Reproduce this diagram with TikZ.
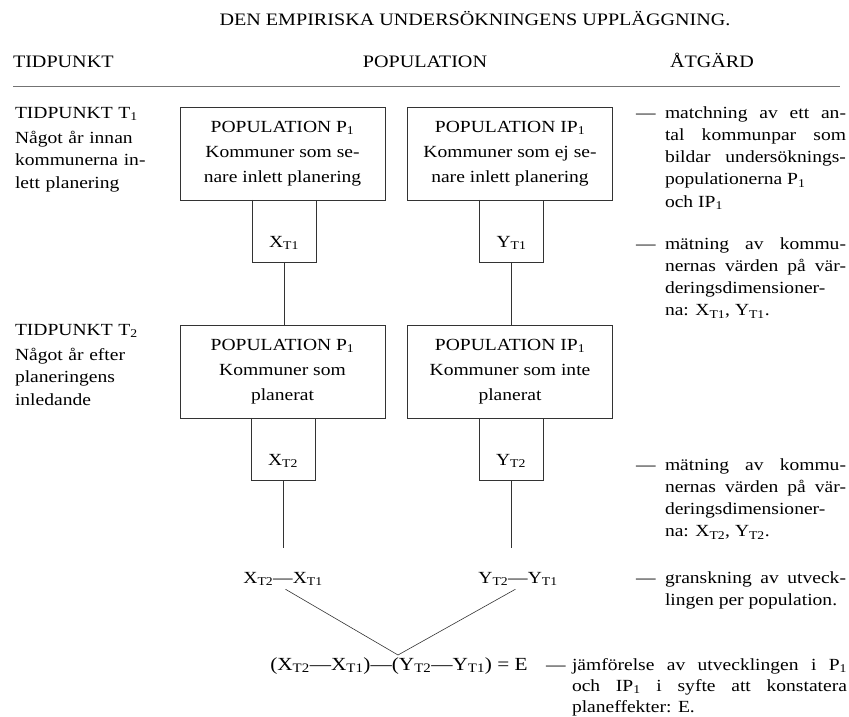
\documentclass[tikz,border=0pt]{standalone}
\usepackage{fontspec}
\setmainfont{Liberation Serif}[FakeStretch=1.15]
\begin{document}
\begin{tikzpicture}[x=1pt,y=-1pt,
  txt/.style={inner sep=0pt, outer sep=0pt},
  head/.style={txt, font=\fontsize{17.5}{20}\selectfont},
  bigbox/.style={draw=black!80, line width=0.6pt, minimum width=205pt, minimum height=93pt, align=center, inner sep=0pt, font=\fontsize{17}{25}\selectfont},
  smallbox/.style={minimum width=64pt, minimum height=62pt, inner sep=0pt, text height=32pt, text depth=0pt, font=\fontsize{17}{20}\selectfont},
  side/.style={draw=black!80, line width=0.6pt},
  link/.style={draw=black!80, line width=0.6pt},
  rule/.style={draw=black!55, line width=0.7pt},
  note/.style={txt, anchor=base west, text width=181pt, align=justify, font=\fontsize{17}{22.3}\selectfont},
  widenote/.style={note, text width=275pt, font=\fontsize{17}{21}\selectfont},
  dashmark/.style={txt, anchor=base west, font=\fontsize{17}{21.5}\selectfont},
  lefttxt/.style={txt, anchor=base west, text width=170pt, align=left, font=\fontsize{17}{22.5}\selectfont},
  formula/.style={inner sep=2pt, anchor=base, font=\fontsize{17}{20}\selectfont},
]
\useasboundingbox (0,0) rectangle (849,717);
% title and column headings
\node[head, anchor=base] (title) at (475,26) {DEN EMPIRISKA UNDERSÖKNINGENS UPPLÄGGNING.};
\node[head, anchor=base west] (h1) at (13,68) {TIDPUNKT};
\node[head, anchor=base] (h2) at (425,68) {POPULATION};
\node[head, anchor=base west] (h3) at (670,68) {ÅTGÄRD};
\coordinate (rl) at (13,86);
\coordinate (rr) at (840,86);
\draw[rule] (rl) -- (rr);
% left column
\node[lefttxt] (t1) at (15,118) {TIDPUNKT T\textsubscript{1}};
\node[lefttxt] (t1d) at (15,143) {Något år innan\\kommunerna in-\\lett planering};
\node[lefttxt] (t2) at (15,335) {TIDPUNKT T\textsubscript{2}};
\node[lefttxt] (t2d) at (15,360) {Något år efter\\planeringens\\inledande};
% population boxes
\node[bigbox] (p1) at (282.5,153.5) {POPULATION P\textsubscript{1}\\Kommuner som se-\\nare inlett planering};
\node[bigbox] (ip1) at (510,153.5) {POPULATION IP\textsubscript{1}\\Kommuner som ej se-\\nare inlett planering};
\node[bigbox] (p2) at (282.5,371.5) {POPULATION P\textsubscript{1}\\Kommuner som\\planerat};
\node[bigbox] (ip2) at (510,371.5) {POPULATION IP\textsubscript{1}\\Kommuner som inte\\planerat};
% measurement boxes
\node[smallbox] (xt1) at (284,231) {X\textsubscript{T1}};
\node[smallbox] (yt1) at (511.5,231) {Y\textsubscript{T1}};
\node[smallbox] (xt2) at (283,449) {X\textsubscript{T2}};
\node[smallbox] (yt2) at (511,449) {Y\textsubscript{T2}};
\foreach \b in {xt1,yt1,xt2,yt2}
  \draw[side] (\b.north west) -- (\b.south west) -- (\b.south east) -- (\b.north east);
\draw[link] (xt1.south) -- (xt1.south |- p2.north);
\draw[link] (yt1.south) -- (yt1.south |- ip2.north);
% differences
\node[formula] (dx) at (283,583) {X\textsubscript{T2}—X\textsubscript{T1}};
\node[formula] (dy) at (518,583) {Y\textsubscript{T2}—Y\textsubscript{T1}};
\draw[link, shorten >=22pt] (xt2.south) -- (xt2.south |- dx.north);
\draw[link, shorten >=22pt] (yt2.south) -- (yt2.south |- dy.north);
\node[formula, font=\fontsize{18.5}{20}\selectfont] (f) at (399,670) {(X\textsubscript{T2}—X\textsubscript{T1})—(Y\textsubscript{T2}—Y\textsubscript{T1}) = E};
\coordinate (m) at (398,655);
\draw[link, shorten <=3pt] (dx.south) -- (m);
\draw[link, shorten <=3pt] (dy.south) -- (m);
% right column
\node[dashmark] (d1) at (636,118) {—};
\node[note] (n1) at (665,118) {matchning av ett an-\linebreak tal kommunpar som\linebreak bildar undersöknings-\linebreak populationerna P\textsubscript{1}\newline och IP\textsubscript{1}};
\node[dashmark] (d2) at (636,249) {—};
\node[note] (n2) at (665,249) {mätning av kommu-\linebreak nernas värden på vär-\linebreak deringsdimensioner-\linebreak na: X\textsubscript{T1}, Y\textsubscript{T1}.};
\node[dashmark] (d3) at (636,470) {—};
\node[note] (n3) at (665,470) {mätning av kommu-\linebreak nernas värden på vär-\linebreak deringsdimensioner-\linebreak na: X\textsubscript{T2}, Y\textsubscript{T2}.};
\node[dashmark] (d4) at (636,583) {—};
\node[note] (n4) at (665,583) {granskning av utveck-\linebreak lingen per population.};
\node[dashmark] (d5) at (546,670) {—};
\node[widenote] (n5) at (572,670) {jämförelse av utvecklingen i P\textsubscript{1}\linebreak och IP\textsubscript{1} i syfte att konstatera\linebreak planeffekter: E.};
\end{tikzpicture}
\end{document}
